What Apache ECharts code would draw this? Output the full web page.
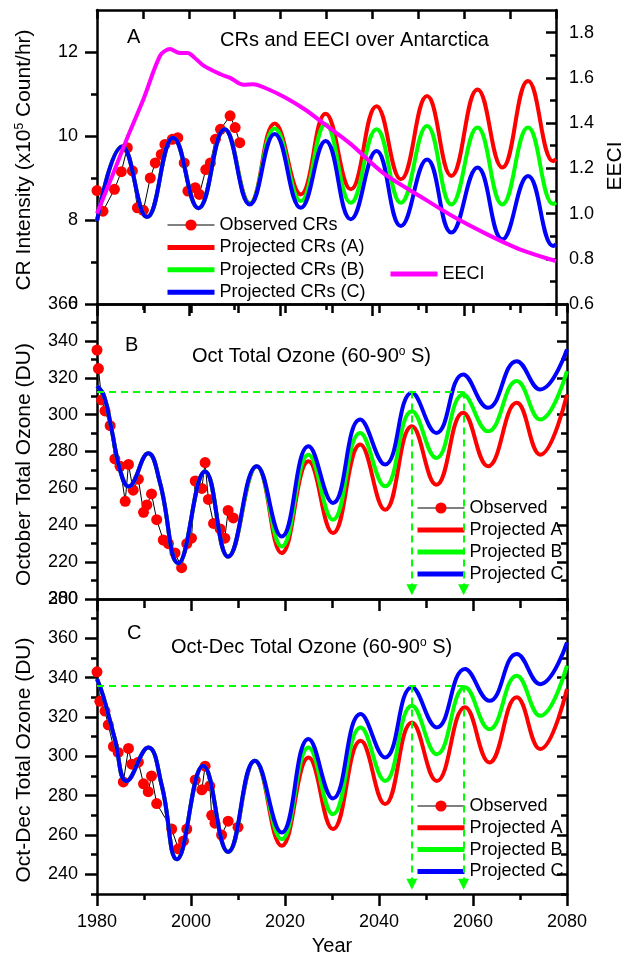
<!DOCTYPE html>
<html><head><meta charset="utf-8">
<script src="https://cdn.jsdelivr.net/npm/echarts@6/dist/echarts.min.js"></script>
<style>html,body{margin:0;padding:0;background:#fff}#c{width:634px;height:958px}</style>
</head><body><div id="c"></div>
<script>
// ---------- Panel A : cosmic rays and EECI ----------
const crYears = [1980, 1985.5, 1990.9, 1996.6, 2002.1, 2007.8, 2013.3, 2018.7, 2024.4, 2029.8, 2035.3, 2040.9, 2046.2, 2051.9, 2057.2, 2062.9, 2068.3, 2073.9, 2079.4, 2080];
const crA = [7.98, 9.75, 8.07, 9.96, 8.28, 10.16, 8.40, 10.30, 8.61, 10.53, 8.73, 10.71, 8.97, 10.95, 9.05, 11.11, 9.25, 11.31, 9.40, 9.45];
const crB = [7.98, 9.75, 8.07, 9.96, 8.28, 10.16, 8.39, 10.18, 8.45, 10.28, 8.41, 10.16, 8.41, 10.24, 8.37, 10.20, 8.37, 10.20, 8.38, 8.42];
const crC = [7.98, 9.75, 8.07, 9.96, 8.28, 10.16, 8.37, 10.05, 8.29, 9.88, 8.02, 9.64, 7.86, 9.44, 7.70, 9.25, 7.54, 9.05, 7.38, 7.42];
const obsCrYears = [1980.0, 1981.3, 1983.8, 1985.3, 1986.6, 1987.7, 1988.8, 1990.1, 1991.6, 1992.7, 1994.0, 1994.8, 1996.4, 1997.6, 1999.0, 1999.8, 2001.4, 2002.3, 2003.7, 2004.7, 2005.8, 2006.9, 2009.0, 2010.1, 2011.1];
const obsCr = [8.70, 8.21, 8.73, 9.15, 9.72, 9.17, 8.29, 8.23, 9.00, 9.36, 9.56, 9.80, 9.92, 9.96, 9.36, 8.69, 8.77, 8.61, 9.20, 9.36, 9.92, 10.16, 10.48, 10.20, 9.84];
const eeciYears = [1980, 1983, 1986.3, 1990.2, 1993.8, 1995.9, 1998, 1999.8, 2001.2, 2003.3, 2006.9, 2009, 2011.8, 2014, 2016.8, 2021, 2025.3, 2029.6, 2035.3, 2042.3, 2050.9, 2058, 2065, 2072.1, 2080];
const eeci = [1.00, 1.15, 1.32, 1.51, 1.70, 1.727, 1.71, 1.71, 1.69, 1.653, 1.616, 1.60, 1.57, 1.572, 1.554, 1.513, 1.46, 1.395, 1.307, 1.18, 1.07, 0.982, 0.908, 0.842, 0.79];

// ---------- Panel B : October total ozone ----------
const ozBYears = [1980, 1981.5, 1983.1, 1984.9, 1986.7, 1990.9, 1993.4, 1997.3, 2003.0, 2007.9, 2014.0, 2019.3, 2025.0, 2030.2, 2036.0, 2041.3, 2047.0, 2052.2, 2057.9, 2063.2, 2069.3, 2074.3, 2080];
const ozBA = [315.5, 310, 292, 270, 261, 279, 263, 219.4, 269.2, 223, 272, 224.9, 274.7, 235.8, 283.8, 248.4, 293.7, 262, 301, 272, 306.4, 278.3, 310.9];
const ozBB = [315.5, 310, 292, 270, 261, 279, 263, 219.4, 269.2, 223, 272, 228.5, 278.3, 243, 290.1, 261.1, 301.8, 276.5, 310.9, 291, 318.2, 297.3, 323.6];
const ozBC = [315.5, 310, 292, 270, 261, 279, 263, 219.4, 269.2, 223, 272, 233.9, 282.8, 252.1, 297.3, 272.9, 311.8, 290.1, 321.8, 303.7, 329, 313.6, 335.4];
const obsBYears = [1980.0, 1980.3, 1981.0, 1981.7, 1982.8, 1983.8, 1984.9, 1986.0, 1986.7, 1987.7, 1988.8, 1989.9, 1990.6, 1991.6, 1992.7, 1994.1, 1995.2, 1996.6, 1998.0, 1999.1, 2000.1, 2000.9, 2002.3, 2003.0, 2003.7, 2004.8, 2006.2, 2007.2, 2007.9, 2009.0];
const obsB = [335, 325, 308, 302, 294, 276, 272, 253, 273, 259, 265, 247, 251, 257, 243, 232, 230, 225, 217, 230, 233, 264, 260, 274, 254, 241, 238, 233, 248, 244];
const ozBRef = 312.5;

// ---------- Panel C : Oct-Dec total ozone ----------
const ozCYears = [1980, 1981.3, 1983.8, 1986.3, 1990.9, 1993.8, 1997.0, 2002.6, 2007.9, 2013.6, 2019.3, 2025.0, 2030.2, 2036.1, 2041.3, 2047.0, 2052.3, 2058.3, 2063.5, 2069.3, 2074.3, 2080];
const ozCA = [339.3, 330.8, 308.8, 287.5, 304.5, 285, 247.7, 295.2, 251.4, 297.7, 254.5, 299.4, 263, 307.9, 275.7, 317.2, 287.5, 324.9, 296.9, 330, 303.7, 334.2];
const ozCB = [339.3, 330.8, 308.8, 287.5, 304.5, 285, 247.7, 295.2, 251.4, 297.7, 257.9, 304.5, 270.6, 314.7, 287.5, 325.7, 301.1, 335.1, 313.8, 341, 320.6, 346.1];
const ozCC = [339.3, 330.8, 308.8, 287.5, 304.5, 285, 247.7, 295.2, 251.4, 297.7, 261.3, 308.8, 278.6, 321.5, 299.4, 335.1, 314.7, 344.4, 328.2, 352, 336.7, 358];
const obsCYears = [1980.0, 1980.6, 1981.7, 1982.4, 1983.5, 1984.5, 1985.6, 1986.7, 1987.4, 1988.8, 1989.9, 1990.9, 1991.6, 1992.7, 1995.9, 1997.3, 1998.4, 1999.1, 2000.9, 2002.3, 2003.0, 2004.0, 2004.4, 2005.1, 2006.5, 2007.9, 2010.0];
const obsC = [343, 328, 323, 316, 305, 302, 287, 304, 296, 297, 286, 282, 290, 276, 263, 253, 257, 263, 288, 283, 295, 285, 270, 266, 260, 267, 264];
const ozCRef = 336;

// crossing years of the reference level (dashed guides) and arrow ends
const crossYears = [2047, 2058];
const arrowEndB = 205;
const arrowEndC = 235;

// ---------- tick values ----------
const crTicks = [6, 8, 10, 12];
const crMinor = [7, 9, 11];
const eeciTicks = [0.6, 0.8, 1.0, 1.2, 1.4, 1.6, 1.8];
const eeciMinor = [0.7, 0.9, 1.1, 1.3, 1.5, 1.7];
const ozBTicks = [200, 220, 240, 260, 280, 300, 320, 340, 360];
const ozBMinor = [210, 230, 250, 270, 290, 310, 330, 350];
const ozCTicks = [240, 260, 280, 300, 320, 340, 360, 380];
const ozCMinor = [230, 250, 270, 290, 310, 330, 350, 370];

const F = 'Liberation Sans, Arial, sans-serif';
const BLACK = '#000';
const pairs = (xs, ys) => xs.map((x, i) => [x, ys[i]]);

const grids = [
  {left: 97, top: 10, width: 470, height: 294},
  {left: 97, top: 304, width: 470, height: 295},
  {left: 97, top: 599, width: 470, height: 295}
];

const axLine = {show: true, onZero: false, lineStyle: {color: BLACK, width: 2.5}};
const tickStyle = {color: BLACK, width: 2.5};

const xAxes = [];
for (let i = 0; i < 3; i++) {
  xAxes.push({
    type: 'value', gridIndex: i, position: 'bottom', min: 1980, max: 2080, interval: 20,
    axisLine: axLine,
    axisTick: {show: true, inside: false, length: 12, lineStyle: tickStyle},
    minorTick: {show: true, splitNumber: 2, length: 6, lineStyle: tickStyle},
    splitLine: {show: false}, minorSplitLine: {show: false},
    axisLabel: {show: i === 2, fontSize: 18, margin: 19, color: BLACK, fontFamily: F, formatter: (v) => String(v)},
    name: i === 2 ? 'Year' : '', nameLocation: 'middle', nameGap: 42,
    nameTextStyle: {fontSize: 20, color: BLACK, fontFamily: F}
  });
}
for (let i = 0; i < 3; i++) {
  xAxes.push({
    type: 'value', gridIndex: i, position: 'top', min: 1980, max: 2080, interval: 10,
    axisLine: axLine,
    axisTick: {show: true, inside: true, length: 9, lineStyle: tickStyle},
    splitLine: {show: false}, axisLabel: {show: false}
  });
}

function mainY(grid, pos, min, max, ticks, opts) {
  return Object.assign({
    type: 'value', gridIndex: grid, position: pos, min: min, max: max,
    axisLine: axLine,
    axisTick: {show: true, inside: pos === 'right', length: pos === 'right' ? 10 : 12, lineStyle: tickStyle, customValues: ticks},
    axisLabel: {show: true, customValues: ticks, fontSize: 18, margin: pos === 'right' ? 13 : 19, color: BLACK, fontFamily: F},
    splitLine: {show: false}
  }, opts || {});
}
function minorY(grid, pos, min, max, ticks) {
  return {
    type: 'value', gridIndex: grid, position: pos, offset: 0, min: min, max: max,
    axisLine: {show: false},
    axisTick: {show: true, inside: pos === 'right', length: 6, lineStyle: tickStyle, customValues: ticks},
    axisLabel: {show: false}, splitLine: {show: false}
  };
}

const supRich = (size) => ({
  n: {fontSize: size, color: BLACK, fontFamily: F},
  s: {fontSize: 12, color: BLACK, fontFamily: F, verticalAlign: 'top'}
});

const yAxes = [
  mainY(0, 'left', 6, 13, crTicks, {
    name: '{n|CR Intensity (x10}{s|5}{n| Count/hr)}', nameLocation: 'middle', nameGap: 62,
    nameTextStyle: {rich: supRich(21), padding: [0, 6, 0, 0]}
  }),
  mainY(0, 'right', 0.6, 1.9, eeciTicks, {
    name: 'EECI', nameLocation: 'middle', nameGap: 49,
    nameTextStyle: {fontSize: 21, color: BLACK, fontFamily: F, padding: [0, 18, 0, 0]}
  }),
  mainY(1, 'left', 200, 360, ozBTicks, {
    name: 'October Total Ozone (DU)', nameLocation: 'middle', nameGap: 62,
    nameTextStyle: {fontSize: 21, color: BLACK, fontFamily: F, padding: [0, 26, 0, 0]}
  }),
  mainY(1, 'right', 200, 360, ozBTicks, {}),
  mainY(2, 'left', 230, 380, ozCTicks, {
    name: 'Oct-Dec Total Ozone (DU)', nameLocation: 'middle', nameGap: 62,
    nameTextStyle: {fontSize: 21, color: BLACK, fontFamily: F, padding: [0, 27, 0, 0]}
  }),
  mainY(2, 'right', 230, 380, ozCTicks, {}),
  minorY(0, 'left', 6, 13, crMinor),
  minorY(0, 'right', 0.6, 1.9, eeciMinor),
  minorY(1, 'left', 200, 360, ozBMinor),
  minorY(1, 'right', 200, 360, ozBMinor),
  minorY(2, 'left', 230, 380, ozCMinor),
  minorY(2, 'right', 230, 380, ozCMinor)
];
yAxes[1].axisLabel.formatter = (v) => Number(v).toFixed(1);
yAxes[3].axisLabel = {show: false};
yAxes[5].axisLabel = {show: false};

function observed(name, xs, ys, xi, yi) {
  return {
    type: 'line', name: name, xAxisIndex: xi, yAxisIndex: yi, data: pairs(xs, ys),
    symbol: 'circle', symbolSize: 11, showSymbol: true,
    lineStyle: {color: BLACK, width: 1}, itemStyle: {color: '#ff0000'},
    emphasis: {disabled: true}, animation: false, z: 2
  };
}
function projected(name, color, xs, ys, xi, yi, extra) {
  return Object.assign({
    type: 'line', name: name, xAxisIndex: xi, yAxisIndex: yi, data: pairs(xs, ys),
    smooth: 0.45, symbol: 'none', lineStyle: {color: color, width: 4}, itemStyle: {color: color},
    emphasis: {disabled: true}, animation: false, z: 3
  }, extra || {});
}
function guides(ref, yEnd) {
  const g = {color: '#00ff00', width: 2, type: [7, 5]};
  return {
    silent: true, symbol: ['none', 'triangle'], symbolSize: 11,
    itemStyle: {color: '#00ff00'},
    label: {show: false}, lineStyle: g, emphasis: {disabled: true}, animation: false,
    data: [
      [{coord: [1980, ref], symbol: 'none'}, {coord: [crossYears[1], ref], symbol: 'none'}],
      [{coord: [crossYears[0], ref]}, {coord: [crossYears[0], yEnd]}],
      [{coord: [crossYears[1], ref]}, {coord: [crossYears[1], yEnd]}]
    ]
  };
}

const series = [
  observed('Observed CRs', obsCrYears, obsCr, 0, 0),
  projected('Projected CRs (A)', '#ff0000', crYears, crA, 0, 0),
  projected('Projected CRs (B)', '#00ff00', crYears, crB, 0, 0),
  projected('Projected CRs (C)', '#0000ff', crYears, crC, 0, 0),
  projected('EECI', '#ff00ff', eeciYears, eeci, 0, 1, {smooth: 0.3}),

  observed('Observed', obsBYears, obsB, 1, 2),
  projected('Projected A', '#ff0000', ozBYears, ozBA, 1, 2),
  projected('Projected B', '#00ff00', ozBYears, ozBB, 1, 2, {markLine: guides(ozBRef, arrowEndB)}),
  projected('Projected C', '#0000ff', ozBYears, ozBC, 1, 2),

  observed('Observed', obsCYears, obsC, 2, 4),
  projected('Projected A', '#ff0000', ozCYears, ozCA, 2, 4),
  projected('Projected B', '#00ff00', ozCYears, ozCB, 2, 4, {markLine: guides(ozCRef, arrowEndC)}),
  projected('Projected C', '#0000ff', ozCYears, ozCC, 2, 4)
];

const legText = {fontSize: 18, color: BLACK, fontFamily: F};
const lineOnly = (name) => ({name: name, itemStyle: {opacity: 0}, lineStyle: {width: 5}});
const withDot = (name) => ({name: name, lineStyle: {width: 1}});
function legend(items, left, top, gap) {
  return {
    data: items, orient: 'vertical', left: left, top: top, padding: 0,
    itemWidth: 47, itemHeight: 14, itemGap: gap, textStyle: legText,
    selectedMode: false
  };
}

const titleText = (text, left, top, size) => ({
  text: text, left: left, top: top, padding: 0,
  textStyle: {fontSize: size, fontWeight: 'normal', color: BLACK, fontFamily: F, rich: supRich(size)}
});

const option = {
  animation: false,
  backgroundColor: '#fff',
  title: [
    titleText('A', 127, 27, 20),
    titleText('CRs and EECI over Antarctica', 220, 30, 20),
    titleText('B', 125, 335, 20),
    titleText('{n|Oct Total Ozone (60-90}{s|o}{n| S)}', 192, 346, 20),
    titleText('C', 127, 623, 20),
    titleText('{n|Oct-Dec Total Ozone (60-90}{s|o}{n| S)}', 171, 637, 20)
  ],
  legend: [
    legend([withDot('Observed CRs'), lineOnly('Projected CRs (A)'), lineOnly('Projected CRs (B)'), lineOnly('Projected CRs (C)')], 165, 216, 4.4),
    legend([lineOnly('EECI')], 388, 265, 4),
    legend([withDot('Observed'), lineOnly('Projected A'), lineOnly('Projected B'), lineOnly('Projected C')], 415, 499, 4),
    legend([withDot('Observed'), lineOnly('Projected A'), lineOnly('Projected B'), lineOnly('Projected C')], 415, 797, 3.8)
  ],
  grid: grids,
  xAxis: xAxes,
  yAxis: yAxes,
  series: series
};

const chart = echarts.init(document.getElementById('c'), null, {renderer: 'canvas'});
chart.setOption(option);
</script></body></html>
